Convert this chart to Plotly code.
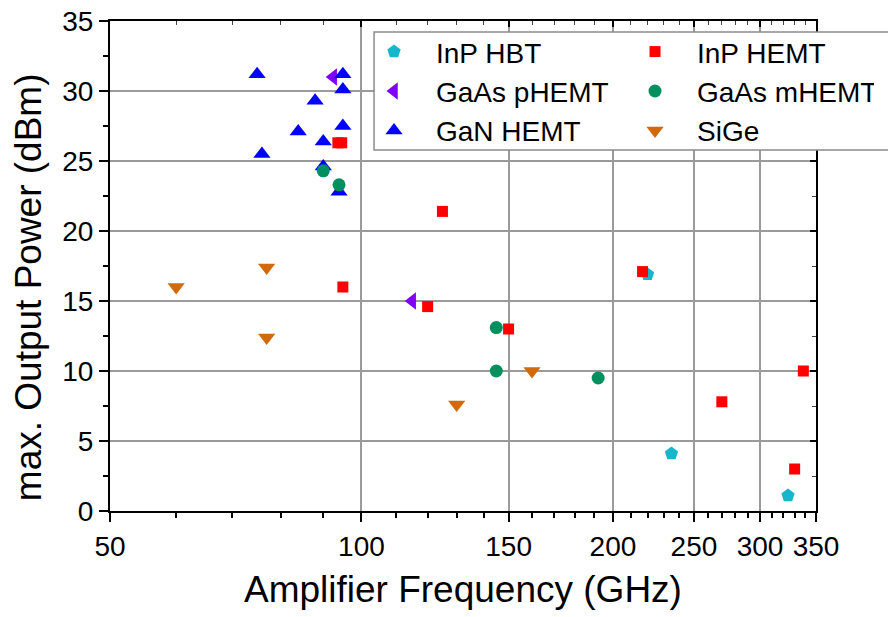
import math
import plotly.graph_objects as go

# ---- data (frequency GHz, output power dBm) ----
inp_hbt_f = [220, 235, 324]
inp_hbt_p = [16.9, 4.1, 1.1]

gaas_phemt_f = [92.5, 115]
gaas_phemt_p = [31.0, 15.0]

gan_hemt_f = [75, 95, 95, 88, 95, 84, 90, 76, 90, 94]
gan_hemt_p = [31.2, 31.2, 30.1, 29.3, 27.5, 27.1, 26.4, 25.5, 24.6, 22.8]

inp_hemt_f = [93.7, 94.7, 95, 125, 120, 150, 217, 270, 338, 330]
inp_hemt_p = [26.3, 26.3, 16.0, 21.4, 14.6, 13.0, 17.1, 7.8, 10.0, 3.0]

gaas_mhemt_f = [90, 94, 145, 145, 192]
gaas_mhemt_p = [24.3, 23.3, 13.1, 10.0, 9.5]

sige_f = [60, 77, 77, 130, 160]
sige_p = [16.0, 17.4, 12.4, 7.6, 10.0]

x_tickvals = [50, 100, 150, 200, 250, 300, 350]
x_ticktext = ["50", "100", "150", "200", "250", "300", "350"]
x_minor = [60, 70, 80, 90, 110, 120, 130, 140, 160, 170, 180, 190,
           210, 220, 230, 240, 260, 270, 280, 290, 310, 320, 330, 340]

FONT = "Liberation Sans, Arial, sans-serif"

series = [
    # name, x, y, symbol, color, size, legendrank
    ("InP HBT", inp_hbt_f, inp_hbt_p, "pentagon", "#17B6CA", 14, 1),
    ("GaAs pHEMT", gaas_phemt_f, gaas_phemt_p, "triangle-left", "#7F00FF", 15, 3),
    ("GaN HEMT", gan_hemt_f, gan_hemt_p, "triangle-up", "#0000FF", 15, 5),
    ("InP HEMT", inp_hemt_f, inp_hemt_p, "square", "#FF0000", 11, 2),
    ("GaAs mHEMT", gaas_mhemt_f, gaas_mhemt_p, "circle", "#008F5E", 13, 4),
    ("SiGe", sige_f, sige_p, "triangle-down", "#D2690A", 15, 6),
]

fig = go.Figure()
for name, xs, ys, sym, col, sz, rank in series:
    fig.add_trace(go.Scatter(
        x=xs, y=ys, mode="markers", name=name, legendrank=rank,
        marker=dict(symbol=sym, color=col, size=sz, line=dict(width=0)),
    ))

# invisible trace to host mirrored axes (top / right, ticks inside)
fig.add_trace(go.Scatter(x=[], y=[], xaxis="x2", yaxis="y2", showlegend=False,
                         hoverinfo="skip"))

xr = [math.log10(50), math.log10(350)]

fig.update_layout(
    width=888, height=617,
    margin=dict(l=110, r=72, t=21, b=106, autoexpand=False),
    paper_bgcolor="white", plot_bgcolor="white",
    font=dict(family=FONT, color="black", size=28),
    showlegend=True,
    legend=dict(
        x=0.3428, y=0.988, xanchor="left", yanchor="top",
        orientation="h", entrywidth=172, entrywidthmode="pixels",
        itemwidth=74,
        font=dict(family=FONT, size=28, color="black"),
        bgcolor="rgba(0,0,0,0)", borderwidth=0,
        traceorder="normal",
    ),
    # legend frame (opaque box extending past the right edge)
    shapes=[dict(type="rect", xref="paper", yref="paper",
                 x0=0.374, x1=1.3, y0=0.7367, y1=0.9776,
                 fillcolor="white", line=dict(color="#8c8c8c", width=1.5),
                 layer="above")],
    xaxis=dict(
        type="log", range=xr,
        tickmode="array", tickvals=x_tickvals, ticktext=x_ticktext,
        ticks="outside", ticklen=9, tickwidth=2, tickcolor="black",
        showline=True, linewidth=2, linecolor="black",
        showgrid=True, gridcolor="#9a9a9a", gridwidth=1.5,
        zeroline=False, ticklabeloverflow="allow",
        tickfont=dict(family=FONT, size=28),
        minor=dict(tickmode="array", tickvals=x_minor, ticks="outside",
                   ticklen=5, tickwidth=1.5, tickcolor="black", showgrid=False),
    ),
    yaxis=dict(
        range=[0, 35], tickmode="linear", tick0=0, dtick=5,
        ticks="outside", ticklen=9, tickwidth=2, tickcolor="black",
        showline=True, linewidth=2, linecolor="black",
        showgrid=True, gridcolor="#9a9a9a", gridwidth=1.5,
        zeroline=False, ticklabeloverflow="allow",
        tickfont=dict(family=FONT, size=28),
        minor=dict(dtick=2.5, tick0=0, ticks="outside", ticklen=5,
                   tickwidth=1.5, tickcolor="black", showgrid=False),
    ),
    xaxis2=dict(
        type="log", range=xr, overlaying="x", side="top", anchor="y",
        tickmode="array", tickvals=x_tickvals, showticklabels=False,
        ticks="inside", ticklen=6, tickwidth=1.5, tickcolor="black",
        showline=True, linewidth=2, linecolor="black", showgrid=False,
        zeroline=False,
        minor=dict(tickmode="array", tickvals=x_minor, ticks="inside",
                   ticklen=4, tickwidth=1, tickcolor="#444", showgrid=False),
    ),
    yaxis2=dict(
        range=[0, 35], overlaying="y", side="right", anchor="x",
        tickmode="linear", tick0=0, dtick=5, showticklabels=False,
        ticks="inside", ticklen=6, tickwidth=1.5, tickcolor="black",
        showline=True, linewidth=2, linecolor="black", showgrid=False,
        zeroline=False,
        minor=dict(dtick=2.5, tick0=0, ticks="inside", ticklen=4,
                   tickwidth=1, tickcolor="#444", showgrid=False),
    ),
    annotations=[
        dict(text="Amplifier Frequency (GHz)", xref="paper", yref="paper",
             x=0.5, y=-0.161, xanchor="center", yanchor="middle",
             showarrow=False, font=dict(family=FONT, size=37, color="black")),
        dict(text="max. Output Power (dBm)", xref="paper", yref="paper",
             x=-0.116, y=0.457, xanchor="center", yanchor="middle",
             textangle=-90, showarrow=False,
             font=dict(family=FONT, size=37, color="black")),
    ],
)

fig.write_html("out.html",
               config={"displayModeBar": False},
               post_script="document.body.style.margin='0';"
                           "document.body.style.overflow='hidden';")
